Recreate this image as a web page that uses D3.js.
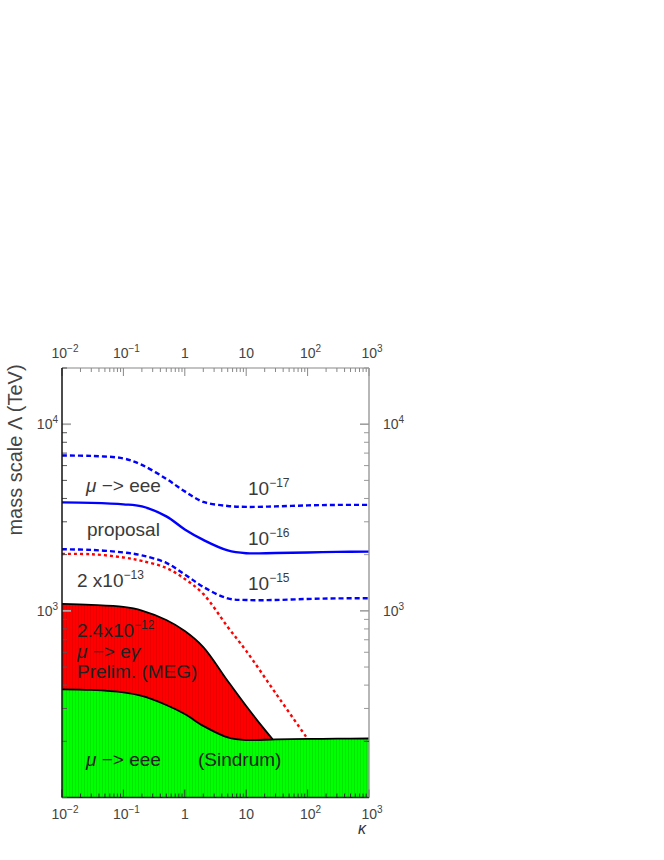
<!DOCTYPE html>
<html><head><meta charset="utf-8">
<script src="https://cdn.jsdelivr.net/npm/d3@7"></script>
<style>
body { margin: 0; background: #fff; }
text { font-family: "Liberation Sans", Arial, sans-serif; }
</style>
</head><body><div id="chart"></div>
<script>
// curves, kappa vs mass scale (TeV)
var kappa = [0.01, 0.03, 0.1, 0.2, 0.5, 1, 2, 5, 10, 30, 100, 300, 1000];
var eee17 = [6790, 6760, 6555, 6053, 5093, 4365, 3834, 3648, 3605, 3627, 3672, 3694, 3694];
var eee16 = [3811, 3787, 3720, 3627, 3207, 2729, 2399, 2107, 2036, 2042, 2055, 2069, 2075];
var eee15 = [2138, 2120, 2055, 1982, 1806, 1567, 1343, 1166, 1143, 1143, 1158, 1166, 1168];
var sindrum = [380, 377, 366, 350, 313, 280, 242, 210, 203, 205, 206, 206.5, 207];
var megKappa = [0.01, 0.03, 0.1, 0.2, 0.5, 1, 2, 5, 10, 20, 27];
var meg = [1089, 1076, 1049, 1004, 893, 780, 640, 421, 309, 231, 205];
var megProjKappa = [0.01, 0.03, 0.1, 0.2, 0.5, 1, 2, 5, 10, 30, 97];
var megProj = [2018, 2011, 1932, 1851, 1698, 1483, 1232, 820, 610, 363, 209];

var xMajor = [0.01, 0.1, 1, 10, 100, 1000];
var xLabels = [["10", "\u22122"], ["10", "\u22121"], ["1", ""], ["10", ""], ["10", "2"], ["10", "3"]];
var yMajor = [1000, 10000];
var yLabels = [["10", "3"], ["10", "4"]];

var width = 664, height = 860;
var pL = 62, pR = 369, pT = 368, pB = 797.5;

var svg = d3.select("#chart").append("svg")
    .attr("width", width)
    .attr("height", height);

var x = d3.scaleLog().domain([0.01, 1000]).range([pL, pR]);
var y = d3.scaleLog().domain([100, 20000]).range([pB, pT]);

// faint vertical stripes like the original fill
var defs = svg.append("defs");
function stripes(id, base, line) {
  var p = defs.append("pattern").attr("id", id)
      .attr("patternUnits", "userSpaceOnUse").attr("width", 3).attr("height", 10);
  p.append("rect").attr("width", 3).attr("height", 10).attr("fill", base);
  p.append("rect").attr("width", 1).attr("height", 10).attr("fill", line);
}
stripes("redfill", "#ff0000", "#ea0000");
stripes("greenfill", "#00ff00", "#00e800");

function pts(ks, vs) { return ks.map(function(k, i){ return [k, vs[i]]; }); }

var smooth = d3.curveCatmullRom.alpha(0.5);

var line = d3.line()
    .x(function(d){ return x(d[0]); })
    .y(function(d){ return y(d[1]); })
    .curve(smooth);

var area = d3.area()
    .x(function(d){ return x(d[0]); })
    .y0(pB)
    .y1(function(d){ return y(d[1]); })
    .curve(smooth);

var megPts = pts(megKappa, meg);
var sinPts = pts(kappa, sindrum);

svg.append("path").datum(megPts).attr("d", area).attr("fill", "url(#redfill)");
svg.append("path").datum(sinPts).attr("d", area).attr("fill", "url(#greenfill)");
svg.append("path").datum(megPts).attr("d", line)
    .attr("fill", "none").attr("stroke", "#000").attr("stroke-width", 1.8);
svg.append("path").datum(sinPts).attr("d", line)
    .attr("fill", "none").attr("stroke", "#000").attr("stroke-width", 1.8);

// projected MEG, red dashed
svg.append("path").datum(pts(megProjKappa, megProj)).attr("d", line)
    .attr("fill", "none").attr("stroke", "#ff0000").attr("stroke-width", 2.4)
    .attr("stroke-dasharray", "3,3");

// mu -> eee sensitivities
[[eee17, "5,3"], [eee16, null], [eee15, "5,3"]].forEach(function(s){
  svg.append("path").datum(pts(kappa, s[0])).attr("d", line)
      .attr("fill", "none").attr("stroke", "#0000ff").attr("stroke-width", 2.4)
      .attr("stroke-dasharray", s[1]);
});

// minor tick values
var xTicks = [];
for (var e = -2; e < 3; e++) for (var m = 1; m < 10; m++) xTicks.push(m * Math.pow(10, e));
xTicks.push(1000);
var yTicks = [];
for (var e2 = 2; e2 < 5; e2++) for (var m2 = 1; m2 < 10; m2++) {
  var v = m2 * Math.pow(10, e2);
  if (v >= 100 && v <= 20000) yTicks.push(v);
}

var g = svg.append("g");
// top axis
g.append("line").attr("x1", pL).attr("x2", pR).attr("y1", pT).attr("y2", pT)
    .attr("stroke", "#888").attr("stroke-width", 1.2);
g.selectAll(".tt").data(xTicks).enter().append("line")
    .attr("x1", function(d){ return x(d); }).attr("x2", function(d){ return x(d); })
    .attr("y1", pT)
    .attr("y2", function(d){ return pT + (xMajor.indexOf(d) >= 0 ? 8 : 4); })
    .attr("stroke", "#888").attr("stroke-width", 1);
// bottom axis
g.selectAll(".bt").data(xTicks).enter().append("line")
    .attr("x1", function(d){ return x(d); }).attr("x2", function(d){ return x(d); })
    .attr("y1", pB)
    .attr("y2", function(d){ return pB - (xMajor.indexOf(d) >= 0 ? 8 : 4); })
    .attr("stroke", "#333").attr("stroke-width", 1);
g.append("line").attr("x1", pL).attr("x2", pR).attr("y1", pB).attr("y2", pB)
    .attr("stroke", "#222").attr("stroke-width", 1.4);
// right axis
g.append("line").attr("x1", pR).attr("x2", pR).attr("y1", pT).attr("y2", pB)
    .attr("stroke", "#999").attr("stroke-width", 1.4);
g.selectAll(".rt").data(yTicks).enter().append("line")
    .attr("x1", pR)
    .attr("x2", function(d){ return pR - (yMajor.indexOf(d) >= 0 ? 9 : 5); })
    .attr("y1", function(d){ return y(d); }).attr("y2", function(d){ return y(d); })
    .attr("stroke", function(d){ return y(d) > y(207) ? "#333" : "#999"; })
    .attr("stroke-width", function(d){ return yMajor.indexOf(d) >= 0 ? 1.5 : 1; });
// left axis
g.selectAll(".lt").data(yTicks).enter().append("line")
    .attr("x1", pL)
    .attr("x2", function(d){ return pL + (yMajor.indexOf(d) >= 0 ? 9 : 5); })
    .attr("y1", function(d){ return y(d); }).attr("y2", function(d){ return y(d); })
    .attr("stroke", function(d){ return yMajor.indexOf(d) >= 0 ? "#aaa" : "#555"; })
    .attr("stroke-width", function(d){ return yMajor.indexOf(d) >= 0 ? 1.8 : 1; });
g.append("line").attr("x1", pL).attr("x2", pL).attr("y1", pT).attr("y2", pB)
    .attr("stroke", "#111").attr("stroke-width", 1.5);

// power-of-ten labels
function powLabel(sel, base, sup, px, py, anchor) {
  var t = sel.append("text").attr("x", px).attr("y", py)
      .attr("text-anchor", anchor).attr("font-size", 14).attr("fill", "#444");
  t.append("tspan").text(base);
  if (sup) t.append("tspan").attr("dy", -6).attr("font-size", 10).text(sup);
  return t;
}
xMajor.forEach(function(d, i){
  var off = xLabels[i][1] ? 3 : 0;
  powLabel(svg, xLabels[i][0], xLabels[i][1], x(d) + off, 358, "middle");
  powLabel(svg, xLabels[i][0], xLabels[i][1], x(d) + off, 819, "middle");
});
yMajor.forEach(function(d, i){
  powLabel(svg, yLabels[i][0], yLabels[i][1], 58, y(d) + 5, "end");
  powLabel(svg, yLabels[i][0], yLabels[i][1], 383, y(d) + 5, "start");
});

// axis titles
svg.append("text")
    .attr("transform", "translate(22,450) rotate(-90)")
    .attr("text-anchor", "middle").attr("font-size", 20).attr("fill", "#444")
    .text("mass scale \u039b (TeV)");
svg.append("text").attr("x", 362).attr("y", 834).attr("text-anchor", "middle")
    .attr("font-size", 16).attr("font-style", "italic").attr("fill", "#333").text("\u03ba");

// in-plot annotations
function note(px, py, parts, color) {
  var t = svg.append("text").attr("x", px).attr("y", py)
      .attr("font-size", 19).attr("fill", color || "#3a3a3a");
  parts.forEach(function(p){
    var s = t.append("tspan").text(p[0]);
    if (p[1] === "i") s.attr("font-style", "italic");
    if (p[1] === "sup") s.attr("dy", -8).attr("font-size", 12);
  });
}
note(86, 492, [["\u03bc", "i"], [" \u2212> eee"]]);
note(87, 536, [["proposal"]]);
note(77, 587, [["2 x10"], ["\u221213", "sup"]]);
note(248, 495, [["10"], ["\u221217", "sup"]]);
note(248, 545, [["10"], ["\u221216", "sup"]]);
note(248, 590, [["10"], ["\u221215", "sup"]]);
note(77, 637, [["2.4x10"], ["\u221212", "sup"]], "#222");
note(77, 658, [["\u03bc", "i"], [" \u2212> e"], ["\u03b3", "i"]], "#222");
note(77, 678, [["Prelim. (MEG)"]], "#222");
note(86, 766, [["\u03bc", "i"], [" \u2212> eee"]], "#222");
note(198, 766, [["(Sindrum)"]], "#222");
</script>
</body></html>
